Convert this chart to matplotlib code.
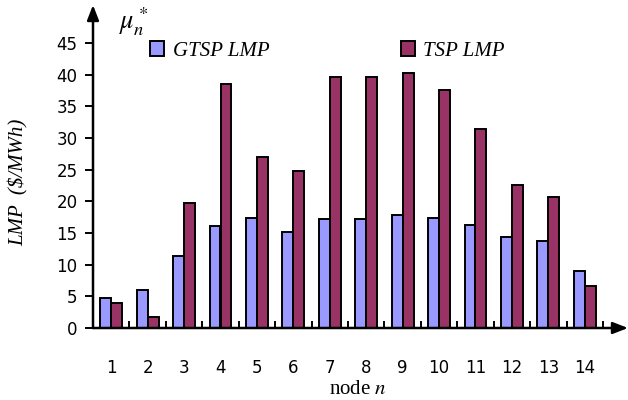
import numpy as np
import matplotlib
matplotlib.use('Agg')
import matplotlib.pyplot as plt
from matplotlib.ticker import MultipleLocator

# 节点 / node
nodes = list(range(1, 15))
gtsp_lmp = [4.8, 6.0, 11.4, 16.1, 17.3, 15.2, 17.2, 17.2, 17.8, 17.3, 16.3, 14.4, 13.8, 9.0]
tsp_lmp = [4.0, 1.8, 19.7, 38.6, 27.0, 24.8, 39.7, 39.7, 40.3, 37.6, 31.4, 22.6, 20.7, 6.6]
y_ticks = [0, 5, 10, 15, 20, 25, 30, 35, 40, 45]

plt.rcParams['mathtext.fontset'] = 'stix'
plt.rcParams['font.family'] = 'DejaVu Sans'

W, H = 628, 400
fig = plt.figure(figsize=(W / 100, H / 100), dpi=100)
ax = fig.add_axes([93 / W, 1 - 328 / H, (603 - 93) / W, (328 - 43) / H])

x = np.array(nodes)
bw = 0.3
b1 = ax.bar(x - bw / 2, gtsp_lmp, bw, color='#9999FF', edgecolor='black', linewidth=1.4, label='GTSP LMP')
b2 = ax.bar(x + bw / 2, tsp_lmp, bw, color='#993366', edgecolor='black', linewidth=1.4, label='TSP LMP')

ax.set_xlim(0.5, 14.5)
ax.set_ylim(0, 45)

for s in ['top', 'right', 'left', 'bottom']:
    ax.spines[s].set_visible(False)

# axes with arrows
ax.annotate('', xy=(1 + 25 / 510, 0), xytext=(0, 0), xycoords='axes fraction',
            arrowprops=dict(arrowstyle='-|>,head_length=0.9,head_width=0.35', lw=1.8, color='black',
                            shrinkA=0, shrinkB=0))
ax.annotate('', xy=(0, 1 + 38 / 285), xytext=(0, 0), xycoords='axes fraction',
            arrowprops=dict(arrowstyle='-|>,head_length=0.9,head_width=0.35', lw=1.8, color='black',
                            shrinkA=0, shrinkB=0))

ax.set_yticks(y_ticks)
ax.tick_params(axis='y', direction='out', length=6, width=1.4, labelsize=12, pad=5)
ax.set_xticks(nodes)
ax.set_xticklabels([str(n) for n in nodes])
ax.xaxis.set_minor_locator(MultipleLocator(1, offset=0.5))
ax.tick_params(axis='x', which='major', length=0, labelsize=12, pad=22)
ax.tick_params(axis='x', which='minor', direction='in', length=5, width=1.4)

fig.text(358 / W, 1 - 389 / H, 'node $n$', ha='center', va='center', fontsize=15,
         family='Liberation Serif')
fig.text(19 / W, 1 - 182 / H, 'LMP  ($/MWh)', rotation=90, ha='center', va='center',
         fontsize=15, family='Liberation Serif', style='italic')
fig.text(119 / W, 1 - 22 / H, r'$\mu_n^*$', ha='left', va='center', fontsize=19)

ax.legend(handles=[b1, b2], ncol=2, frameon=False, loc='center left',
          bbox_to_anchor=(131 / W, 1 - 51 / H), bbox_transform=fig.transFigure,
          handlelength=0.7, handleheight=0.7, handletextpad=0.4, columnspacing=6.3,
          prop={'family': 'Liberation Serif', 'style': 'italic', 'size': 15})

fig.savefig('out.png', dpi=100)
